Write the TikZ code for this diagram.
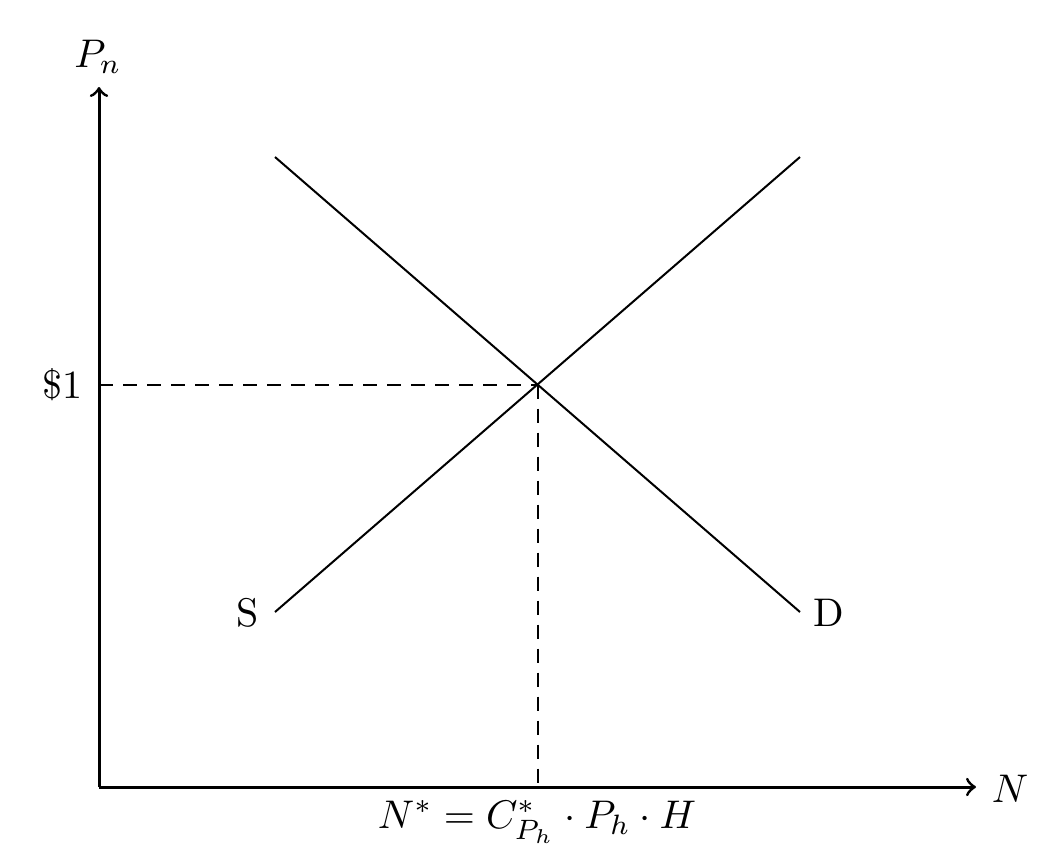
\documentclass[tikz,border=0pt]{standalone}
\begin{document}
\begin{tikzpicture}[x=0.25pt,y=-0.25pt,
  axis/.style={line width=0.75pt,->},
  curve/.style={line width=0.5pt},
  guide/.style={line width=0.5pt,dash pattern=on 3.5pt off 2.5pt},
  lbl/.style={inner sep=0pt}]
\useasboundingbox (0,0) rectangle (1062,860);
\coordinate (O) at (99,787);
\coordinate (xtip) at (976,787);
\coordinate (ytip) at (99,87);
\coordinate (S1) at (275,612);
\coordinate (S2) at (800,157);
\coordinate (D1) at (275,157);
\coordinate (D2) at (800,612);
\coordinate (E) at (537.5,384.5);
\coordinate (Ey) at (99,384.5);
\coordinate (Ex) at (537.5,787);
\draw[axis] (O) -- (xtip);
\draw[axis] (O) -- (ytip);
\draw[curve] (S1) -- (S2);
\draw[curve] (D1) -- (D2);
\draw[guide] (Ey) -- (E);
\draw[guide] (E) -- (Ex);
\node[lbl] (Pn) at (98,57) {$P_n$};
\node[lbl] (Nl) at (1010,789) {$N$};
\node[lbl,anchor=east] (one) at (83,385) {\$1};
\node[lbl] (Sl) at (248,613) {S};
\node[lbl] (Dl) at (829,613) {D};
\node[lbl,anchor=north] (Nstar) at (537,800) {$N^* = C^*_{P_h}\cdot P_h\cdot H$};
\end{tikzpicture}
\end{document}
